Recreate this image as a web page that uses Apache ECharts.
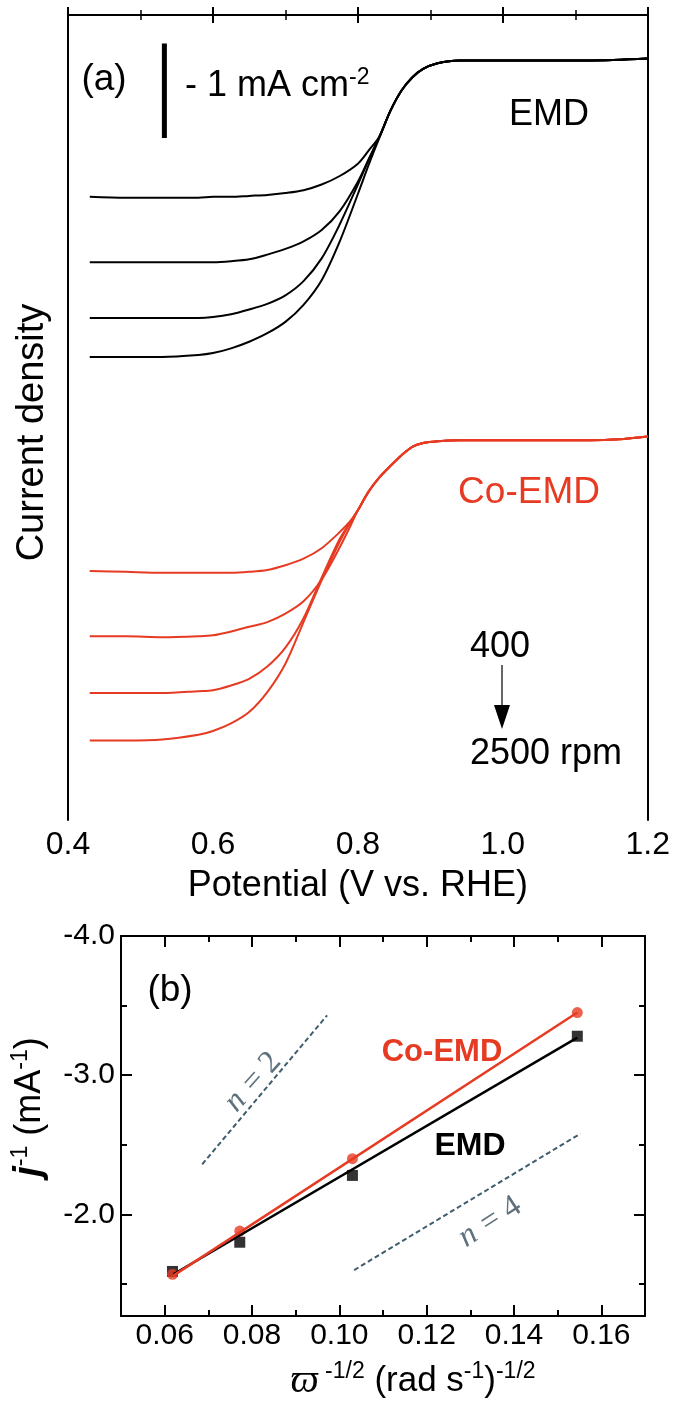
<!DOCTYPE html>
<html>
<head>
<meta charset="utf-8">
<script src="https://cdn.jsdelivr.net/npm/echarts@6/dist/echarts.min.js"></script>
<style>
html,body{margin:0;padding:0;background:#fff;}
#c{width:673px;height:1402px;}
</style>
</head>
<body>
<div id="c"></div>
<script>
// ---------- Panel (a): LSV curves (offset current density, mA cm^-2) ----------
const potentialEMD = [0.43,0.48,0.53,0.58,0.60,0.625,0.65,0.675,0.70,0.725,0.75,0.775,0.80,0.815,0.83,0.845,0.86,0.875,0.89,0.91,0.94,0.98,1.05,1.12,1.2];
const emd400  = [-1.92,-1.93,-1.93,-1.93,-1.92,-1.92,-1.91,-1.90,-1.88,-1.85,-1.79,-1.70,-1.57,-1.43,-1.28,-1.01,-0.80,-0.66,-0.57,-0.51,-0.48,-0.48,-0.48,-0.48,-0.46];
const emd900  = [-2.61,-2.61,-2.61,-2.61,-2.61,-2.60,-2.58,-2.53,-2.47,-2.39,-2.27,-2.07,-1.76,-1.52,-1.28,-1.01,-0.80,-0.66,-0.57,-0.51,-0.48,-0.48,-0.48,-0.48,-0.46];
const emd1600 = [-3.20,-3.20,-3.20,-3.20,-3.19,-3.16,-3.11,-3.05,-2.96,-2.81,-2.57,-2.21,-1.79,-1.53,-1.28,-1.01,-0.80,-0.66,-0.57,-0.51,-0.48,-0.48,-0.48,-0.48,-0.46];
const emd2500 = [-3.61,-3.61,-3.61,-3.59,-3.57,-3.52,-3.45,-3.36,-3.24,-3.06,-2.80,-2.39,-1.89,-1.58,-1.29,-1.01,-0.80,-0.66,-0.57,-0.51,-0.48,-0.48,-0.48,-0.48,-0.46];

const potentialCo = [0.43,0.48,0.53,0.58,0.60,0.625,0.65,0.675,0.70,0.725,0.75,0.775,0.79,0.80,0.815,0.83,0.845,0.86,0.875,0.89,0.91,0.94,0.98,1.05,1.12,1.16,1.2];
const co400  = [-5.87,-5.88,-5.89,-5.89,-5.89,-5.89,-5.88,-5.86,-5.81,-5.74,-5.63,-5.46,-5.34,-5.23,-5.03,-4.88,-4.76,-4.65,-4.56,-4.52,-4.50,-4.49,-4.49,-4.49,-4.49,-4.48,-4.45];
const co900  = [-6.56,-6.56,-6.57,-6.56,-6.55,-6.51,-6.46,-6.41,-6.32,-6.19,-5.96,-5.62,-5.39,-5.23,-5.03,-4.88,-4.76,-4.65,-4.56,-4.52,-4.50,-4.49,-4.49,-4.49,-4.49,-4.48,-4.45];
const co1600 = [-7.16,-7.16,-7.16,-7.14,-7.13,-7.08,-7.01,-6.88,-6.68,-6.37,-5.94,-5.53,-5.35,-5.23,-5.03,-4.88,-4.76,-4.65,-4.56,-4.52,-4.50,-4.49,-4.49,-4.49,-4.49,-4.48,-4.45];
const co2500 = [-7.66,-7.66,-7.65,-7.60,-7.56,-7.48,-7.36,-7.15,-6.85,-6.41,-5.97,-5.56,-5.35,-5.23,-5.03,-4.88,-4.76,-4.65,-4.56,-4.52,-4.50,-4.49,-4.49,-4.49,-4.49,-4.48,-4.45];

const rpmNames = ['400 rpm','900 rpm','1600 rpm','2500 rpm'];
const scaleBarX = [0.533, 0.533];
const scaleBarY = [-0.30, -1.30];   // 1 mA cm^-2

// ---------- Panel (b): Koutecky-Levich ----------
const invSqrtOmega = [0.0618, 0.0772, 0.1030, 0.1545];
const emdInvJ = [-1.59, -1.80, -2.28, -3.28];
const coInvJ  = [-1.57, -1.88, -2.40, -3.45];
const fitX    = [0.062, 0.1545];
const emdFitY = [-1.57, -3.27];
const coFitY  = [-1.56, -3.45];
const n2X = [0.0686, 0.0972], n2Y = [-2.36, -3.43];
const n4X = [0.1034, 0.1552], n4Y = [-1.60, -2.58];
const xLabelsB = [0.06, 0.08, 0.10, 0.12, 0.14, 0.16];
const yLabelsB = [-4.0, -3.0, -2.0];

const SANS = 'Liberation Sans, Arial, sans-serif';
const SERIF = 'Liberation Serif, DejaVu Serif, serif';
const RED = '#e63b22';
const pairs = (xs, ys) => xs.map((x, i) => [x, ys[i]]);

const chart = echarts.init(document.getElementById('c'), null, {renderer: 'canvas'});

const lineAxis = {show: true, lineStyle: {color: '#000', width: 2}};
const noLine = {show: false};

function xA(grid, pos, extra) {
  return Object.assign({
    gridIndex: grid, type: 'value', position: pos,
    axisLine: lineAxis, splitLine: {show: false},
    axisLabel: {show: false}, axisTick: {show: false}
  }, extra);
}
function yA(grid, pos, extra) {
  return Object.assign({
    gridIndex: grid, type: 'value', position: pos,
    axisLine: lineAxis, splitLine: {show: false},
    axisLabel: {show: false}, axisTick: {show: false}
  }, extra);
}

const xA_ticks = {show: true, inside: true, length: 8, lineStyle: {color: '#000', width: 2}};
const xA_minor = {show: true, splitNumber: 2, length: 5, lineStyle: {color: '#000', width: 1.5}};

const xAxes = [
  xA(0, 'bottom', {min: 0.4, max: 1.2, interval: 0.2, axisTick: xA_ticks, minorTick: xA_minor,
    axisLabel: {show: true, fontSize: 32, fontFamily: SANS, color: '#000', margin: 9,
      formatter: v => v.toFixed(1)},
    name: 'Potential (V vs. RHE)', nameLocation: 'middle', nameGap: 48,
    nameTextStyle: {fontSize: 36, fontFamily: SANS, color: '#000'}}),
  xA(0, 'top', {min: 0.4, max: 1.2, interval: 0.2, axisTick: xA_ticks, minorTick: xA_minor}),
  // panel b bottom: minor ticks + labels
  xA(1, 'bottom', {min: 0.05, max: 0.17, interval: 0.01,
    axisTick: {show: true, inside: true, length: 6, lineStyle: {color: '#000', width: 2}},
    axisLabel: {show: true, customValues: xLabelsB, fontSize: 30, fontFamily: SANS, color: '#000', margin: 5,
      formatter: v => v.toFixed(2)},
    name: '{w|ϖ}{s| -1/2} {m|(rad s}{s|-1}{m|)}{s|-1/2}', nameLocation: 'middle', nameGap: 44,
    nameTextStyle: {fontSize: 35, fontFamily: SANS, color: '#000', padding: [0, 0, 0, 60],
      rich: {w: {fontSize: 40, fontFamily: SERIF, fontStyle: 'italic', color: '#000', lineHeight: 42},
             m: {fontSize: 35, fontFamily: SANS, color: '#000', lineHeight: 42},
             s: {fontSize: 23, fontFamily: SANS, color: '#000', verticalAlign: 'top', lineHeight: 22}}}}),
  xA(1, 'bottom', {min: 0.05, max: 0.17, axisLine: noLine,
    axisTick: {show: true, inside: true, length: 11, customValues: xLabelsB, lineStyle: {color: '#000', width: 2}}}),
  xA(1, 'top', {min: 0.05, max: 0.17, interval: 0.01,
    axisTick: {show: true, inside: true, length: 6, lineStyle: {color: '#000', width: 2}}}),
  xA(1, 'top', {min: 0.05, max: 0.17, axisLine: noLine,
    axisTick: {show: true, inside: true, length: 11, customValues: xLabelsB, lineStyle: {color: '#000', width: 2}}})
];

const yAxes = [
  yA(0, 'left', {min: -8.5, max: 0,
    name: 'Current density', nameLocation: 'middle', nameGap: 16,
    nameTextStyle: {fontSize: 38, fontFamily: SANS, color: '#000', padding: [0, 30, 0, 0]}}),
  yA(0, 'right', {min: -8.5, max: 0}),
  yA(1, 'left', {min: -4, max: -1.27, inverse: true, interval: 0.5,
    axisTick: {show: true, inside: true, length: 6, lineStyle: {color: '#000', width: 2}},
    axisLabel: {show: true, customValues: yLabelsB, fontSize: 30, fontFamily: SANS, color: '#000', margin: 6,
      formatter: v => v.toFixed(1)},
    name: '{j|j}{s|-1} {m|(mA}{s|-1}{m|)}', nameLocation: 'middle', nameGap: 70,
    nameTextStyle: {fontSize: 36, fontFamily: SANS, color: '#000', padding: [0, 0, 0, 38],
      rich: {j: {fontSize: 38, fontFamily: SANS, fontStyle: 'italic', fontWeight: 'bold', color: '#000', lineHeight: 42},
             m: {fontSize: 36, fontFamily: SANS, color: '#000', lineHeight: 42},
             s: {fontSize: 23, fontFamily: SANS, color: '#000', verticalAlign: 'top', lineHeight: 22}}}}),
  yA(1, 'left', {min: -4, max: -1.27, inverse: true, axisLine: noLine,
    axisTick: {show: true, inside: true, length: 11, customValues: yLabelsB, lineStyle: {color: '#000', width: 2}}}),
  yA(1, 'right', {min: -4, max: -1.27, inverse: true, interval: 0.5,
    axisTick: {show: true, inside: true, length: 6, lineStyle: {color: '#000', width: 2}}}),
  yA(1, 'right', {min: -4, max: -1.27, inverse: true, axisLine: noLine,
    axisTick: {show: true, inside: true, length: 11, customValues: yLabelsB, lineStyle: {color: '#000', width: 2}}})
];

function lsv(name, xs, ys, color) {
  return {name, type: 'line', xAxisIndex: 0, yAxisIndex: 0, data: pairs(xs, ys),
    showSymbol: false, symbol: 'none', smooth: 0.3,
    lineStyle: {color, width: 2}, silent: true};
}

const series = [
  lsv('EMD ' + rpmNames[0], potentialEMD, emd400, '#000'),
  lsv('EMD ' + rpmNames[1], potentialEMD, emd900, '#000'),
  lsv('EMD ' + rpmNames[2], potentialEMD, emd1600, '#000'),
  lsv('EMD ' + rpmNames[3], potentialEMD, emd2500, '#000'),
  lsv('Co-EMD ' + rpmNames[0], potentialCo, co400, RED),
  lsv('Co-EMD ' + rpmNames[1], potentialCo, co900, RED),
  lsv('Co-EMD ' + rpmNames[2], potentialCo, co1600, RED),
  lsv('Co-EMD ' + rpmNames[3], potentialCo, co2500, RED),
  {name: 'scale bar', type: 'line', xAxisIndex: 0, yAxisIndex: 0, data: pairs(scaleBarX, scaleBarY),
    symbol: 'none', lineStyle: {color: '#000', width: 5, cap: 'butt'}, silent: true},
  // panel b
  {name: 'n = 2', type: 'line', xAxisIndex: 2, yAxisIndex: 2, data: pairs(n2X, n2Y), symbol: 'none',
    lineStyle: {color: '#3f5d6d', width: 2, type: [5, 3]}, silent: true},
  {name: 'n = 4', type: 'line', xAxisIndex: 2, yAxisIndex: 2, data: pairs(n4X, n4Y), symbol: 'none',
    lineStyle: {color: '#3f5d6d', width: 2, type: [5, 3]}, silent: true},
  {name: 'EMD fit', type: 'line', xAxisIndex: 2, yAxisIndex: 2, data: pairs(fitX, emdFitY), symbol: 'none',
    lineStyle: {color: '#000', width: 2.5}, silent: true},
  {name: 'EMD', type: 'scatter', xAxisIndex: 2, yAxisIndex: 2, data: pairs(invSqrtOmega, emdInvJ),
    symbol: 'rect', symbolSize: 11, itemStyle: {color: '#000'}, silent: true},
  {name: 'Co-EMD fit', type: 'line', xAxisIndex: 2, yAxisIndex: 2, data: pairs(fitX, coFitY), symbol: 'none',
    lineStyle: {color: RED, width: 2.5}, silent: true},
  {name: 'Co-EMD', type: 'scatter', xAxisIndex: 2, yAxisIndex: 2, data: pairs(invSqrtOmega, coInvJ),
    symbol: 'circle', symbolSize: 11, itemStyle: {color: RED}, silent: true}
];

function txt(x, y, text, o) {
  return {type: 'text', x, y, rotation: (o && o.rot) || 0, z: 100,
    style: Object.assign({text, fontFamily: SANS, fontSize: 36, fill: '#000', align: 'center', verticalAlign: 'middle'}, o && o.style)};
}

const graphic = [
  txt(104, 80, '(a)', {style: {fontSize: 37}}),
  txt(185, 86, '{m|- 1 mA cm}{s|-2}', {style: {align: 'left',
    rich: {m: {fontSize: 36, fontFamily: SANS, fill: '#000', lineHeight: 40},
           s: {fontSize: 23, fontFamily: SANS, fill: '#000', verticalAlign: 'top', lineHeight: 22}}}}),
  txt(549, 115, 'EMD', {style: {fontSize: 36}}),
  txt(529, 493, 'Co-EMD', {style: {fontSize: 37, fill: RED}}),
  txt(500, 647, '400', {style: {fontSize: 36}}),
  txt(470, 754, '2500 rpm', {style: {fontSize: 36, align: 'left'}}),
  {type: 'line', z: 100, shape: {x1: 502, y1: 665, x2: 502, y2: 712}, style: {stroke: '#333', lineWidth: 1.5}},
  {type: 'polygon', z: 100, shape: {points: [[494, 705], [510, 705], [502, 729]]}, style: {fill: '#000'}},
  txt(170, 991, '(b)', {style: {fontSize: 37}}),
  txt(442, 1052, 'Co-EMD', {style: {fontSize: 31, fontWeight: 'bold', fill: RED}}),
  txt(470, 1146, 'EMD', {style: {fontSize: 32, fontWeight: 'bold'}}),
  txt(253, 1082, '{i|n} {r|= 2}', {rot: 48 * Math.PI / 180, style: {
    rich: {i: {fontSize: 32, fontFamily: SERIF, fontStyle: 'italic', fill: '#5f717c'},
           r: {fontSize: 32, fontFamily: SERIF, fill: '#5f717c'}}}}),
  txt(490, 1222, '{i|n} {r|= 4}', {rot: 33 * Math.PI / 180, style: {
    rich: {i: {fontSize: 32, fontFamily: SERIF, fontStyle: 'italic', fill: '#5f717c'},
           r: {fontSize: 32, fontFamily: SERIF, fill: '#5f717c'}}}})
];

chart.setOption({
  animation: false,
  backgroundColor: '#fff',
  textStyle: {fontFamily: SANS},
  grid: [
    {left: 68, top: 15, width: 581, height: 805},
    {left: 121, top: 936, width: 524, height: 382}
  ],
  xAxis: xAxes,
  yAxis: yAxes,
  series,
  graphic
});
</script>
</body>
</html>
